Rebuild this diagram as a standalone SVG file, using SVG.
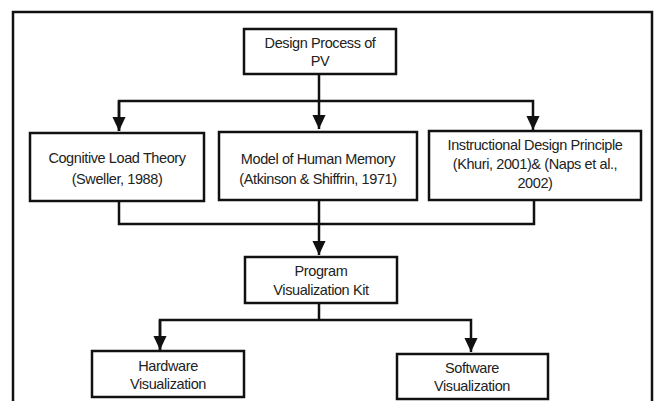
<svg xmlns="http://www.w3.org/2000/svg" width="655" height="401" viewBox="0 0 655 401">
<defs>
<style>
.box{fill:#fff;stroke:#111;stroke-width:2.5}
.ln{fill:none;stroke:#111;stroke-width:2.5}
text{font-family:"Liberation Sans",Arial,sans-serif;font-size:14.5px;fill:#222;text-anchor:middle;letter-spacing:-0.4px}
</style>
<marker id="ah" markerUnits="userSpaceOnUse" markerWidth="14" markerHeight="15" refX="15" refY="7" orient="auto" viewBox="0 0 15 14">
<path d="M0,0 L15,7 L0,14 z" fill="#111"/>
</marker>
</defs>
<rect width="655" height="401" fill="#fff"/>
<path class="ln" d="M13,405 V12 H652 V405"/>
<g id="connectors">
<path class="ln" d="M319,74 V129" marker-end="url(#ah)"/>
<path class="ln" d="M119,131 V101 H533 V130" marker-end="url(#ah)"/>
<path class="ln" d="M119,101 V131" marker-end="url(#ah)"/>
<path class="ln" d="M119,201 V224 H534 V200"/>
<path class="ln" d="M319,200 V255" marker-end="url(#ah)"/>
<path class="ln" d="M319,303 V320"/>
<path class="ln" d="M160,350 V320 H471 V352" marker-end="url(#ah)"/>
<path class="ln" d="M160,320 V350" marker-end="url(#ah)"/>
</g>
<g id="design-process">
<rect class="box" x="244" y="29" width="152" height="45"/>
<text x="320" y="48">Design Process of</text>
<text x="320" y="66">PV</text>
</g>
<g id="cognitive-load">
<rect class="box" x="30" y="133" width="174" height="68"/>
<text x="117" y="163">Cognitive Load Theory</text>
<text x="117" y="184">(Sweller, 1988)</text>
</g>
<g id="human-memory">
<rect class="box" x="219" y="132" width="198" height="68"/>
<text x="318" y="164">Model of Human Memory</text>
<text x="318" y="184">(Atkinson &amp; Shiffrin, 1971)</text>
</g>
<g id="instructional-design">
<rect class="box" x="429" y="131" width="212" height="69"/>
<text x="535" y="150">Instructional  Design Principle</text>
<text x="535" y="169">(Khuri, 2001)&amp; (Naps et al.,</text>
<text x="535" y="188">2002)</text>
</g>
<g id="pv-kit">
<rect class="box" x="245" y="257" width="152" height="46"/>
<text x="321" y="276">Program</text>
<text x="321" y="295">Visualization  Kit</text>
</g>
<g id="hardware">
<rect class="box" x="92" y="351" width="152" height="46"/>
<text x="168" y="371">Hardware</text>
<text x="168" y="389">Visualization</text>
</g>
<g id="software">
<rect class="box" x="397" y="354" width="151" height="45"/>
<text x="472" y="373">Software</text>
<text x="472" y="391">Visualization</text>
</g>
</svg>
